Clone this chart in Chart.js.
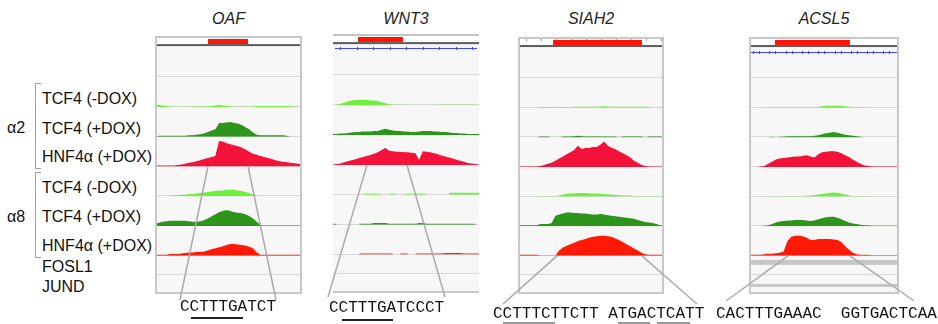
<!DOCTYPE html>
<html>
<head>
<meta charset="utf-8">
<script src="https://cdn.jsdelivr.net/npm/chart.js@4.4.1/dist/chart.umd.min.js"></script>
<style>
  body { margin: 0; background: #fff; }
  #wrap { position: relative; width: 938px; height: 324px; overflow: hidden; font-family: Arial, "Liberation Sans", sans-serif; color: #111; }
  #wrap canvas { position: absolute; }
  .lbl { position: absolute; font-size: 16px; line-height: 16px; white-space: nowrap; }
  .title { position: absolute; font-size: 16px; line-height: 16px; font-style: italic; text-align: center; color: #222; }
  .seq { position: absolute; font-family: "Liberation Mono", "Courier New", monospace; font-size: 16px; line-height: 16px; white-space: pre; color: #111; }
  .ul { position: absolute; height: 2px; background: #222; }
  .br { position: absolute; width: 5px; border: 1.5px solid #a0a0a0; border-right: none; }
  #links { position: absolute; left: 0; top: 0; pointer-events: none; }
</style>
</head>
<body>
<div id="wrap">
  <div class="title" style="left:155px;top:11px;width:147px">OAF</div>
  <div class="title" style="left:333px;top:11px;width:146px">WNT3</div>
  <div class="title" style="left:518px;top:11px;width:146px">SIAH2</div>
  <div class="title" style="left:749px;top:11px;width:150px">ACSL5</div>

  <div class="lbl" style="left:7px;top:120px">α2</div>
  <div class="lbl" style="left:7px;top:209px">α8</div>
  <div class="br" style="left:35px;top:83px;height:84px"></div>
  <div class="br" style="left:35px;top:172px;height:84px"></div>
  <div id="labels"></div>

  <canvas id="oaf" width="147" height="258" style="left:155px;top:36px"></canvas>
  <canvas id="wnt3" width="146" height="259" style="left:333px;top:34px"></canvas>
  <canvas id="siah2" width="146" height="257" style="left:518px;top:37px"></canvas>
  <canvas id="acsl5" width="150" height="257" style="left:749px;top:37px"></canvas>

  <svg id="links" width="938" height="324"></svg>

  <div class="seq" style="left:180px;top:299px">CCTTTGATCT</div>
  <div class="ul" style="left:191px;top:317px;width:52px"></div>
  <div class="seq" style="left:329px;top:300px">CCTTTGATCCCT</div>
  <div class="ul" style="left:342px;top:319px;width:51px"></div>
  <div class="seq" style="left:493px;top:306px">CCTTTCTTCTT ATGACTCATT</div>
  <div class="ul" style="left:503px;top:322px;width:52px;background:#999"></div>
  <div class="ul" style="left:618px;top:322px;width:32px;background:#999"></div>
  <div class="ul" style="left:657px;top:322px;width:33px;background:#999"></div>
  <div class="seq" style="left:716px;top:306px">CACTTTGAAAC  GGTGACTCAA</div>
</div>

<script>
// track names shown on the left, top to bottom
const trackLabels = ['TCF4 (-DOX)', 'TCF4 (+DOX)', 'HNF4α (+DOX)', 'TCF4 (-DOX)', 'TCF4 (+DOX)', 'HNF4α (+DOX)', 'FOSL1', 'JUND'];
const trackColors = ['#6cf03a', '#2e951c', '#f2123a', '#6cf03a', '#2e951c', '#ff1a08'];

// coverage (track height ~29 px, values in px of height)
const oafA2TcfNoDox = [2,2,1.5,1,0.5,0.3,0.3,0.3,0.3,0.3,0.5,0.5,0.5,0.5,0.5,1,1.5,2,1.5,1,0.5,0.3,0.3,0.3,0.3,0.3,0.5,0.8,1,1,1,1,1,1,1,0.8,0.8,0.5,0,0];
const oafA2TcfDox = [0,1,1,1,1,1,1,1,1,1.5,1.5,2,2.5,3,4.5,6,7,13,13,13.5,14,13,12.5,11,9,7,4,2,1.5,1.5,1.5,1.5,1.5,1.5,1.5,1,0,0,0,0];
const oafA2HnfDox = [1,1,1,1,1,1,1.5,2,2.5,3.5,4,5,6,7,8,9,10,24,23.5,22,21,20,19,18,16,14,12,11,10,9,8,7,6,5,4.5,4,3.5,3,2.5,2];
const oafA8TcfNoDox = [0,0,0,0,0.5,1,1,1.5,1.5,2,2,2.5,3,3.5,4,4.5,5,5.5,5.5,6,6,6,5.5,5,4,3,1.5,0.5,0,0,0,0,0,0,0,0,0,0,0,0];
const oafA8TcfDox = [2.5,3,4,4.5,5,5,5,5,5,4.5,4,4,4.5,5.5,7,9,11,13,14,15,14,13,12.5,12,11,9.5,7,4,1,0.5,0.5,0.5,0.5,0.5,0.5,0.5,0.5,0.5,0.5,0.5];
const oafA8HnfDox = [1,1,1,1,1.5,1.5,1.5,2,2.5,3,3,3.5,3.5,4,5,6,7,8,9,10,11,11,10.5,10,9.5,8.5,7,3,1,1,1,1,1,1,1,1,1,1,1,1];

const wnt3A2TcfNoDox = [0,0.5,1.5,2.5,3.5,4.5,5,5,5,5,4.5,4.5,4,3,2,1,0.5,0.5,0.5,0.5,0.3,0.3,0.3,0.3,0.3,0.3,0.3,0.3,0.5,0.5,0.5,0.5,0.5,0.5,0.5,0.5,0.5,0.5,0.5,0.5];
const wnt3A2TcfDox = [1,1,1.5,1.5,2,2.5,3,3,3.5,3.5,3.5,4,4,5,6,5,4.5,4,4,3.5,3.5,3,3,3.5,4,4,4,3.5,3.5,3,3,2.5,2,2,1.5,1.5,1,1,1,1];
const wnt3A2HnfDox = [0.5,1,1.5,2.5,3.5,4.5,5.5,6.5,7.5,8.5,9.5,10.5,12,14,16,13.5,13,12.5,12.5,12,12,11.5,11,5,13,12.5,12,11,10,9,8,7,6,5,4,3,2,1.5,1,0.5];
const wnt3A8TcfNoDox = [null,null,null,null,null,null,null,null,1,1,1,1,1,1,null,1,1,1,null,1,1,1,1,1,1,1,null,null,null,null,null,2,2,2,2,2,2,2,2,2];
const wnt3A8TcfDox = [1,1,null,null,null,null,null,1,1,1,1,1.5,1.5,1.5,1.5,1,1,1,1,1,1,1,1,1.5,1.5,1,1,1,1,1,1,1,1,1,1,1,1,1,1,null];
const wnt3A8HnfDox = [null,null,null,null,null,null,null,1,1,1,1,1,1,1,1,1,1,null,1,1,1,null,1,1,1,1,1,1,1,1,1.5,1.5,1.5,1.5,1.5,1,1,1,1,1];

const siahA2TcfNoDox = [0,0,0,0,0,0,0.8,0.8,0.8,0.8,0.5,0.8,0.8,0.8,0.8,1,1,1,1,1,1,1,1.2,1.5,1.2,1,1,1,1,1,1,1,1,1,1,0.8,0,0,0.8,0.8];
const siahA2TcfDox = [0,0,0,0,0,0,0.8,0.8,0.8,0,0,0,0.8,0.8,0.8,1,1.5,1,0.8,0.8,0.8,0.8,0.8,0.8,0.8,0.8,0.8,0,0.8,0.8,0.8,0.8,0.8,0.8,0,0.8,0.8,0.8,0.8,0.8];
const siahA2HnfDox = [0.5,0.5,0.5,0.5,0.5,0.5,1,2,3,4,6,8,10,12,14,16,20,17,18,18,19,19,21,24,20,18,17,15,13,11,9,6,4,2,1,0.5,0.5,0.5,0.5,0.5];
const siahA8TcfNoDox = [0,0,0,0,0,0,0.5,0.5,0.5,0.5,0.5,1,2,2.5,3,3,3.5,3.5,3.5,3,3,3,2.5,2.5,2,2,1.5,1.5,1,1,1,0.5,0.5,0.5,0.5,0.5,0.5,0.5,0.5,0.5];
const siahA8TcfDox = [1,1,1,1,1,1,2,2,2,3,10,11,12,13,13,12.5,12.5,12,12,11.5,11,11,11.5,11,10.5,10,9.5,9,8.5,8,7.5,7,6,5,4,3.5,3,2,1,1];
const siahA8HnfDox = [1,1,1,1,1,1,0.3,0.3,0.3,0.3,0.3,5,8,9.5,11,12.5,14,15,16,17,18,18.5,19,19,18.5,18,16.5,15,13,11,9,7,5,3,1.5,1,1,1,1,1];

const acslA2TcfNoDox = [0,0,0,0,0,0.5,0.5,0.5,0.5,0.5,0.5,0.5,0.5,0.5,0.5,0.5,0.5,0.5,1,1.5,2,2,2,2,2,1.5,1,0.8,0.8,0.5,0.5,0,0,0,0,0,0,0,0,0];
const acslA2TcfDox = [0,0,0,0,0,0,0.5,0,0.5,0.5,1,1,1,1,1,1,1,1.5,2,3,4,4.5,5,4.5,3.5,2.5,2,1.5,1,0.5,0,0,0,0,0,0,0,0,0,0];
const acslA2HnfDox = [0,0,0,0.5,1,3,5,7,8,8.5,9,9.5,10,10,10.5,11,10,9,12,14,14.5,15,15,14.5,13,11,9.5,7,5,3,1.5,1,0.5,0.5,0.5,0.5,0.5,0.5,0.5,0.5];
const acslA8TcfNoDox = [0,0,0,0,0,0.3,0.3,0.3,0.3,0.3,0.5,0.5,0.5,0.5,0.5,0.8,1,1.5,2,2.5,3,3.5,4,3.5,3,2,1,0.5,0.5,0.5,0.3,0.3,0,0,0,0,0,0,0,0];
const acslA8TcfDox = [0,0,0,0,0.5,1,2,3.5,4.5,5,5.5,5.5,6,6,6,5.5,5,5.5,6.5,7.5,8.5,9,9,8,6.5,5,3.5,2.5,2,1.5,1,1,0.5,0.5,0.5,0.5,0.5,0.5,0.5,0.5];
const acslA8HnfDox = [1,1,1,1,1.5,2,2,2.5,3,4,14,18,19,19,18.5,17,15,15,16,16,16,16,15.5,15,13,9,6,3,1.5,1,1,1,0.5,0.5,0.5,0.5,0.5,0.5,0.5,0.5];

// gene body (red bar) and motif position, in % of the window
const geneSpans = { oaf: [36, 63.3], wnt3: [17.1, 47.9], siah2: [24, 84.9], acsl5: [17.3, 67.3] };
const motifSpans = { oaf: [36, 63.3], wnt3: [23.3, 50.7], siah2: [26.7, 84.9], acsl5: [26, 67.3] };

const panels = [
  { id: 'oaf', tracks: [oafA2TcfNoDox, oafA2TcfDox, oafA2HnfDox, oafA8TcfNoDox, oafA8TcfDox, oafA8HnfDox],
    motifTrack: 't2', seqEnds: [[180, 300], [276, 300]], ruler: false, blue: null, sides: true, bands: [] },
  { id: 'wnt3', tracks: [wnt3A2TcfNoDox, wnt3A2TcfDox, wnt3A2HnfDox, wnt3A8TcfNoDox, wnt3A8TcfDox, wnt3A8HnfDox],
    motifTrack: 't2', seqEnds: [[328, 297], [445, 297]], ruler: false, blue: 'arrow', sides: false, bands: [] },
  { id: 'siah2', tracks: [siahA2TcfNoDox, siahA2TcfDox, siahA2HnfDox, siahA8TcfNoDox, siahA8TcfDox, siahA8HnfDox],
    motifTrack: 't5', seqEnds: [[503, 304], [697, 304]], ruler: true, blue: null, sides: true, bands: [] },
  { id: 'acsl5', tracks: [acslA2TcfNoDox, acslA2TcfDox, acslA2HnfDox, acslA8TcfNoDox, acslA8TcfDox, acslA8HnfDox],
    motifTrack: 't5', seqEnds: [[726, 301], [914, 301]], ruler: false, blue: 'plus', sides: true,
    bands: [{ axis: 'fosl1', from: 0, to: 100, off: 4, size: 5 }, { axis: 'jund', from: 0, to: 100, off: 9, size: 3 }] }
];

const axisIds = ['head', 'blank', 't0', 't1', 't2', 't3', 't4', 't5', 'fosl1', 'jund'];
const axisWeights = [10, 31, 29.5, 29.5, 29.5, 29.5, 29.5, 29.5, 19, 19];

// left labels
const labelCenters = [99, 129, 157, 188, 217, 246, 267, 287];
const labelsDiv = document.getElementById('labels');
trackLabels.forEach((t, i) => {
  const d = document.createElement('div');
  d.className = 'lbl';
  d.style.left = '42px';
  d.style.top = (labelCenters[i] - 8) + 'px';
  d.textContent = t;
  labelsDiv.appendChild(d);
});

const igvPlugin = {
  id: 'igv',
  beforeDatasetsDraw(chart, args, o) {
    const { ctx, chartArea: a, scales: s } = chart;
    const x = s.x;
    ctx.save();
    ctx.fillStyle = '#f7f7f7';
    ctx.fillRect(a.left, a.top, a.width, a.height);
    // track separators
    ctx.strokeStyle = '#d8d8d8';
    ctx.lineWidth = 1;
    ['blank', 't0', 't1', 't2', 't3', 't4', 't5', 'fosl1'].forEach(id => {
      const yb = Math.round(s[id].bottom) - 0.5;
      ctx.beginPath(); ctx.moveTo(a.left, yb); ctx.lineTo(a.right, yb); ctx.stroke();
    });
    o.bands.forEach(b => {
      const sc = s[b.axis];
      const x0 = x.getPixelForValue(b.from), x1 = x.getPixelForValue(b.to);
      ctx.fillStyle = '#c6c6c6';
      ctx.fillRect(x0, sc.top + b.off, x1 - x0, b.size);
    });
    // gene header
    const hd = s.head;
    ctx.fillStyle = '#fff';
    ctx.fillRect(a.left, hd.top, a.width, hd.height);
    ctx.fillStyle = '#c4c4c4';
    ctx.fillRect(a.left, hd.top, a.width, 2);
    if (o.ruler) {
      ctx.strokeStyle = '#999';
      for (let px = a.left + 8; px < a.right; px += 15) {
        ctx.beginPath(); ctx.moveTo(px + 0.5, hd.top + 2); ctx.lineTo(px + 0.5, hd.top + 4); ctx.stroke();
      }
    }
    const g0 = x.getPixelForValue(o.gene[0]), g1 = x.getPixelForValue(o.gene[1]);
    ctx.fillStyle = '#ff1408';
    ctx.fillRect(g0, hd.top + 3, g1 - g0, hd.height - 5);
    ctx.fillStyle = '#5c5c5c';
    ctx.fillRect(a.left, hd.bottom - 2, a.width, 2);
    if (o.blue) {
      const yb = Math.round(hd.bottom + (o.blue === 'plus' ? 5 : 4)) + 0.5;
      ctx.strokeStyle = '#3a4bff';
      ctx.beginPath(); ctx.moveTo(a.left + 2, yb); ctx.lineTo(a.right - 2, yb); ctx.stroke();
      const step = o.blue === 'plus' ? 16.3 : 16.5;
      for (let px = a.left + 7; px < a.right - 2; px += step) {
        const p = Math.round(px) + 0.5;
        ctx.beginPath();
        if (o.blue === 'plus') {
          ctx.moveTo(p - 3, yb - 1.5); ctx.lineTo(p - 3, yb + 1.5);
          ctx.moveTo(p + 3, yb - 1.5); ctx.lineTo(p + 3, yb + 1.5);
        } else {
          ctx.moveTo(p, yb - 1.5); ctx.lineTo(p, yb + 1.5);
        }
        ctx.stroke();
      }
    }
    ctx.restore();
  },
  afterDatasetsDraw(chart, args, o) {
    const { ctx, chartArea: a } = chart;
    ctx.save();
    ctx.strokeStyle = '#c8c8c8';
    ctx.lineWidth = 2;
    if (o.sides) {
      ctx.strokeRect(a.left + 1, a.top + 1, a.width - 2, a.height - 2);
    } else {
      ctx.beginPath();
      ctx.moveTo(a.left, a.bottom - 1); ctx.lineTo(a.right, a.bottom - 1);
      ctx.stroke();
    }
    ctx.restore();
  }
};

const charts = {};
panels.forEach(p => {
  const scales = { x: { type: 'linear', min: 0, max: 100, display: false } };
  axisIds.forEach((id, i) => {
    scales[id] = { type: 'linear', position: 'right', stack: 'igv', stackWeight: axisWeights[i],
                   min: 0, max: 28, display: false };
  });
  const datasets = p.tracks.map((arr, k) => ({
    data: arr.map((v, i) => ({ x: i * 100 / (arr.length - 1), y: v })),
    yAxisID: 't' + k,
    fill: 'origin',
    backgroundColor: trackColors[k],
    borderWidth: 0,
    pointRadius: 0,
    tension: 0,
    spanGaps: false
  }));
  charts[p.id] = new Chart(document.getElementById(p.id), {
    type: 'line',
    data: { datasets },
    options: {
      responsive: false,
      animation: false,
      layout: { padding: 0 },
      scales,
      plugins: {
        legend: { display: false },
        tooltip: { enabled: false },
        igv: { gene: geneSpans[p.id], ruler: p.ruler, blue: p.blue, sides: p.sides, bands: p.bands }
      }
    },
    plugins: [igvPlugin]
  });
});

// grey connectors from the motif in the track down to the sequence
const svg = document.getElementById('links');
panels.forEach(p => {
  const c = charts[p.id];
  const cv = c.canvas;
  const yTop = cv.offsetTop + c.scales[p.motifTrack].bottom;
  motifSpans[p.id].forEach((m, j) => {
    const xTop = cv.offsetLeft + c.scales.x.getPixelForValue(m);
    const line = document.createElementNS('http://www.w3.org/2000/svg', 'line');
    line.setAttribute('x1', xTop); line.setAttribute('y1', yTop);
    line.setAttribute('x2', p.seqEnds[j][0]); line.setAttribute('y2', p.seqEnds[j][1]);
    line.setAttribute('stroke', '#aaaaaa'); line.setAttribute('stroke-width', '1.5');
    svg.appendChild(line);
  });
});
</script>
</body>
</html>
